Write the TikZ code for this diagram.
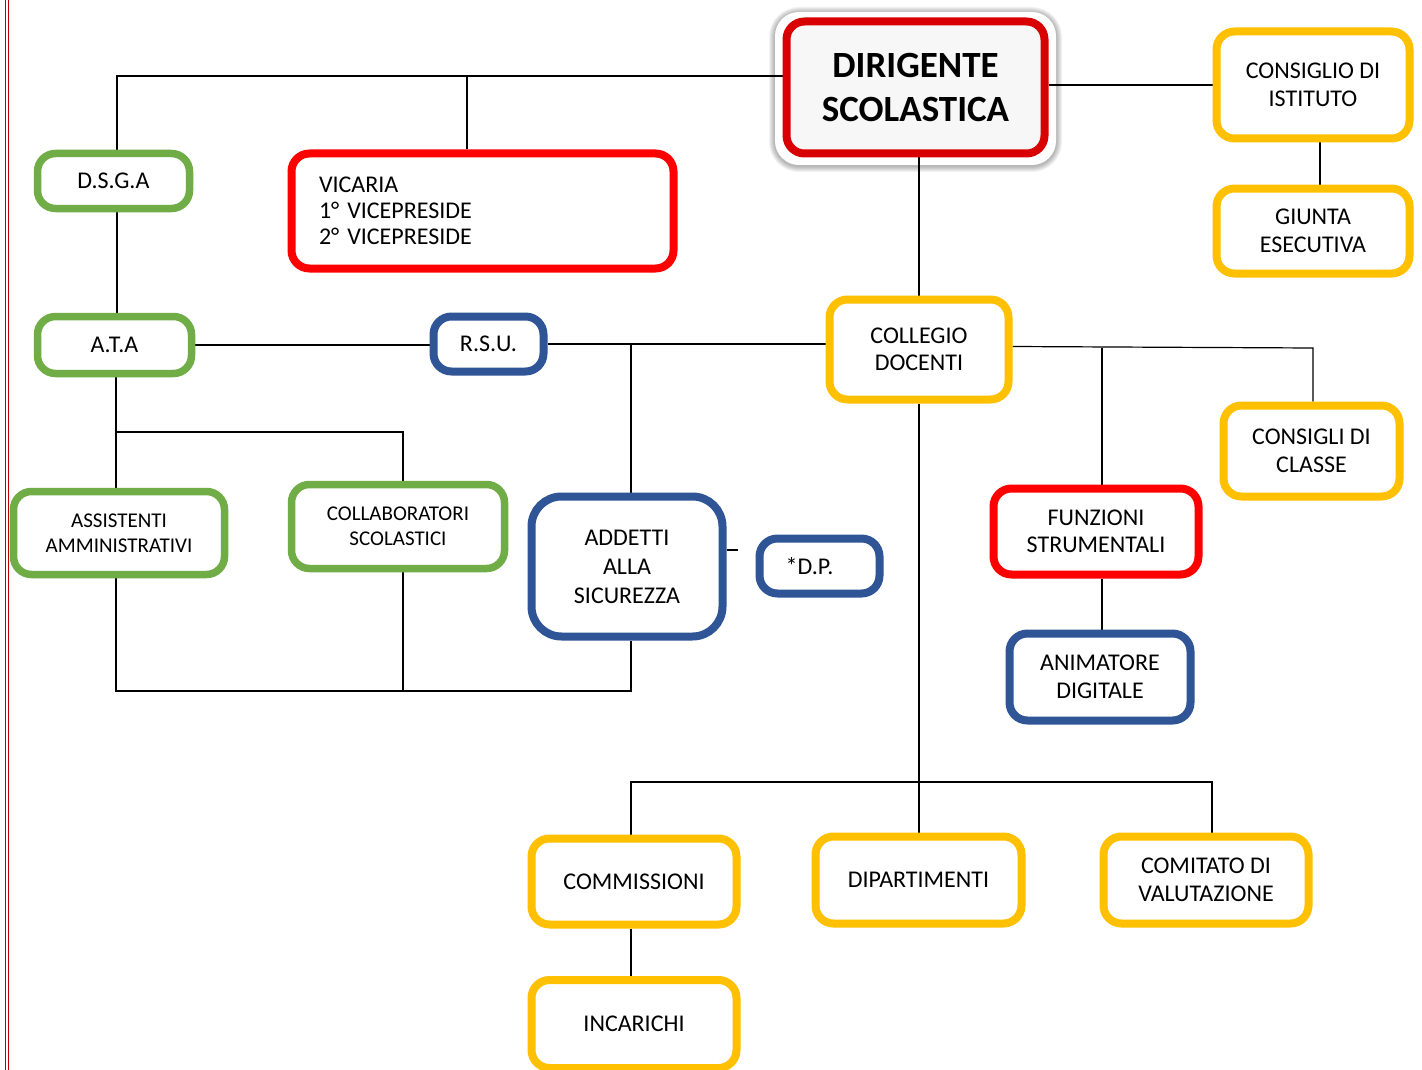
\documentclass[tikz,border=0pt]{standalone}
\usepackage{fontspec}
\setmainfont{Carlito}
\usetikzlibrary{backgrounds}
\definecolor{orgyellow}{HTML}{FFC000}
\definecolor{orggreen}{HTML}{70AD47}
\definecolor{orgblue}{HTML}{2F5597}
\definecolor{orgred}{HTML}{FF0000}
\definecolor{dirred}{HTML}{D80000}
\definecolor{marginred}{HTML}{C00000}
\tikzset{
  box/.style={draw, rounded corners=18pt, line width=8pt, fill=white, align=center,
    inner sep=0pt, font=\fontsize{24}{27.5}\selectfont},
  ybox/.style={box, draw=orgyellow},
  gbox/.style={box, draw=orggreen, line width=7.5pt},
  bbox/.style={box, draw=orgblue},
  rbox/.style={box, draw=orgred},
  small/.style={font=\fontsize{21}{25}\selectfont},
  conn/.style={line width=1.2pt},
}

\begin{document}
\begin{tikzpicture}[x=1pt,y=-1pt]
\clip (0,0) rectangle (1422,1070);
\begin{scope}[on background layer]
\fill[white] (0,0) rectangle (1422,1070);
\foreach \w in {2,4,...,12}
  \draw[black, opacity=0.05, line width=\w pt, rounded corners=24pt] (775,13) rectangle (1056,166);
\fill[white, rounded corners=24pt] (775,12) rectangle (1056,165);
\end{scope}
\draw[marginred, line width=1.5pt] (5.5,0) -- (5.5,1070);
\draw[marginred, line width=1.5pt] (8.5,0) -- (8.5,1070);

% vertici
\node[box, draw=dirred, fill=gray!6, minimum width=258pt, minimum height=132pt,
  font=\fontsize{37}{44}\selectfont\bfseries] (dir) at (915.5,87.5) {DIRIGENTE\\SCOLASTICA};
\node[ybox, minimum width=193pt, minimum height=107pt] (cdi) at (1313,85) {CONSIGLIO DI\\ISTITUTO};
\node[ybox, minimum width=193pt, minimum height=85pt] (giunta) at (1313,231) {GIUNTA\\ESECUTIVA};
\node[gbox, minimum width=152pt, minimum height=55pt] (dsga) at (113.5,181) {D.S.G.A};
\node[rbox, minimum width=382pt, minimum height=115pt, text width=327pt, align=left,
  font=\fontsize{24}{26}\selectfont] (vic) at (482.5,211) {VICARIA\\1° VICEPRESIDE\\2° VICEPRESIDE};
\node[gbox, minimum width=154pt, minimum height=57pt] (ata) at (114.5,345) {A.T.A};
\node[bbox, minimum width=110pt, minimum height=55pt] (rsu) at (488.5,344) {R.S.U.};
\node[ybox, minimum width=179pt, minimum height=100pt] (cdoc) at (919,349.5) {COLLEGIO\\DOCENTI};
\node[ybox, minimum width=176pt, minimum height=91pt] (ccl) at (1311.5,451) {CONSIGLI DI\\CLASSE};
\node[gbox, small, minimum width=211pt, minimum height=83pt] (ass) at (119,533) {ASSISTENTI\\AMMINISTRATIVI};
\node[gbox, small, minimum width=213pt, minimum height=84pt] (coll) at (398,526.5) {COLLABORATORI\\SCOLASTICI};
\node[bbox, rounded corners=30pt, minimum width=191pt, minimum height=140pt,
  font=\fontsize{24}{29}\selectfont] (add) at (627,566.5) {ADDETTI\\ALLA\\SICUREZZA};
\node[bbox, minimum width=120pt, minimum height=55pt] (dp) at (819.5,566) {*D.P.\hspace*{20pt}};
\node[rbox, minimum width=205pt, minimum height=86pt] (fs) at (1096,531.5) {FUNZIONI\\STRUMENTALI};
\node[bbox, minimum width=181pt, minimum height=87pt] (anim) at (1100,677) {ANIMATORE\\DIGITALE};
\node[ybox, minimum width=205pt, minimum height=86pt] (comm) at (634,881.5) {COMMISSIONI};
\node[ybox, minimum width=206pt, minimum height=87pt] (dip) at (918.5,880) {DIPARTIMENTI};
\node[ybox, minimum width=205pt, minimum height=87pt] (cval) at (1206,880) {COMITATO DI\\VALUTAZIONE};
\node[ybox, minimum width=205pt, minimum height=88pt] (inc) at (634,1024) {INCARICHI};

% collegamenti
\coordinate (jtop) at (117,76);
\coordinate (jvic) at (467,76);
\coordinate (jadd) at (631,344);
\coordinate (jcc) at (1313,348);
\coordinate (jfs) at (1102,348);
\coordinate (jgiu) at (1320,160);
\coordinate (jata) at (116,432);
\coordinate (jcoll) at (403,432);
\coordinate (jbot) at (116,691);
\coordinate (jcom) at (631,782);
\coordinate (jcv) at (1212,782);
\begin{scope}[on background layer]
\draw[conn] (jtop |- dsga.north) -- (jtop) -- (jtop -| dir.west);
\draw[conn] (jvic) -- (jvic |- vic.north);
\draw[conn] (jtop |- dsga.south) -- (jtop |- ata.north);
\draw[line width=2.5pt] (cdi.west -| dir.east) -- (cdi.west);
\draw[conn] (jgiu |- cdi.south) -- (jgiu |- giunta.north);
\draw[conn] (dir.south -| cdoc.north) -- (cdoc.north);
\draw[conn] (ata.east) -- (ata.east -| rsu.west);
\draw[conn] (rsu.east) -- (rsu.east -| cdoc.west);
\draw[conn] (jadd) -- (jadd |- add.north);
\draw[conn] ([yshift=3pt]cdoc.east) -- (jcc) -- (jcc |- ccl.north);
\draw[conn] (jfs) -- (jfs |- fs.north);
\draw[conn] (jfs |- fs.south) -- (jfs |- anim.north);
\draw[conn] (jata |- ata.south) -- (jata |- ass.north);
\draw[conn] (jata) -- (jcoll) -- (jcoll |- coll.north);
\draw[conn] (jbot |- ass.south) -- (jbot) -- (jbot -| jadd) -- (jadd |- add.south);
\draw[conn] (jcoll |- coll.south) -- (jcoll |- jbot);
\draw[conn] ([yshift=16.5pt]add.east) -- ++(11,0);
\draw[conn] (cdoc.south) -- (cdoc.south |- dip.north);
\draw[conn] (jcom |- comm.north) -- (jcom) -- (jcv) -- (jcv |- cval.north);
\draw[conn] (jcom |- comm.south) -- (jcom |- inc.north);
\end{scope}
\end{tikzpicture}
\end{document}
